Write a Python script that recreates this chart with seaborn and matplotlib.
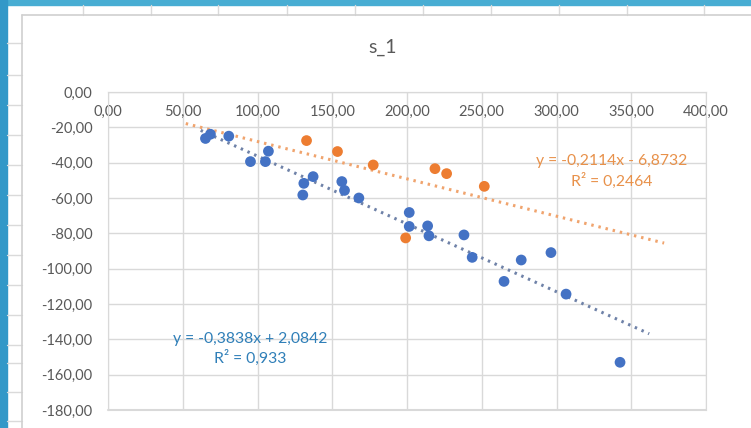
#!/usr/bin/env python3
# -*- coding: utf-8 -*-

#Bibliotecas
import numpy as np
import pandas as pd
import seaborn as sns
import matplotlib.pyplot as plt
from matplotlib.patches import Rectangle
from matplotlib.lines import Line2D

# Dados (série azul e série laranja)
v_azul_x = [65.2, 68.5, 80.8, 95.3, 105.3, 107.3, 131.0, 130.3, 137.2, 156.4, 158.2,
            167.8, 201.5, 201.5, 213.8, 214.7, 238.1, 243.6, 264.9, 276.4, 296.3, 306.4, 342.5]
v_azul_y = [-26.3, -23.9, -25.0, -39.4, -39.4, -33.5, -51.7, -58.3, -47.9, -50.7, -55.7,
            -60.0, -68.2, -76.1, -75.8, -81.4, -80.9, -93.6, -107.2, -95.1, -90.9, -114.4, -153.0]
v_laranja_x = [132.8, 153.5, 177.4, 218.7, 226.5, 251.7, 199.1]
v_laranja_y = [-27.5, -33.7, -41.3, -43.4, -46.2, -53.4, -82.6]

# Linhas de tendência (equações mostradas no gráfico)
v_tend_azul = (-0.3838, 2.0842, 62, 362)
v_tend_laranja = (-0.2114, -6.8732, 52, 372)

v_x_ticks = [0, 50, 100, 150, 200, 250, 300, 350, 400]
v_y_ticks = [0, -20, -40, -60, -80, -100, -120, -140, -160, -180]

df = pd.DataFrame({
    'x': v_azul_x + v_laranja_x,
    'y': v_azul_y + v_laranja_y,
    'serie': ['azul'] * len(v_azul_x) + ['laranja'] * len(v_laranja_x),
})

# Configuração
sns.set_style('white')
plt.rcParams['font.family'] = ['Lato', 'DejaVu Sans']
v_cinza = '#595959'
v_cor_azul = '#4472C4'
v_cor_laranja = '#ED7D31'

fig = plt.figure(figsize=(7.51, 4.28), dpi=100)
fig.patch.set_facecolor('white')

# Moldura da planilha (borda azul e linhas das células)
fig.add_artist(Rectangle((0, 1 - 5 / 428), 1, 5 / 428, transform=fig.transFigure,
                         color='#48ADD3', zorder=0))
fig.add_artist(Rectangle((0, 0), 7 / 751, 1, transform=fig.transFigure,
                         color='#3398C8', zorder=0))
for v_px in [83, 151, 218, 287, 355, 423, 491, 559, 627, 704]:
    fig.add_artist(Line2D([v_px / 751] * 2, [1 - 5 / 428, 1 - 15 / 428],
                          transform=fig.transFigure, color='#DADADA', lw=1))
for v_py in [43, 75, 105, 135, 165, 195, 225, 255, 285, 315, 345, 363, 392, 421]:
    fig.add_artist(Line2D([7 / 751, 22 / 751], [1 - v_py / 428] * 2,
                          transform=fig.transFigure, color='#DADADA', lw=1))
fig.add_artist(Line2D([22 / 751] * 2, [0, 1 - 15 / 428],
                      transform=fig.transFigure, color='#D0D0D0', lw=1.2))
fig.add_artist(Line2D([22 / 751, 1], [1 - 15 / 428] * 2,
                      transform=fig.transFigure, color='#D0D0D0', lw=1.2))

ax = fig.add_axes([108 / 751, 1 - 410 / 428, (706 - 108) / 751, (410 - 92) / 428])

sns.scatterplot(data=df, x='x', y='y', hue='serie',
                palette={'azul': v_cor_azul, 'laranja': v_cor_laranja},
                s=60, linewidth=0, legend=False, ax=ax, zorder=3)

# Linhas de tendência pontilhadas
for (v_a, v_b, v_x0, v_x1), v_cor in [(v_tend_azul, '#6F82A8'), (v_tend_laranja, '#F0A46E')]:
    v_xs = np.array([v_x0, v_x1])
    ax.plot(v_xs, v_a * v_xs + v_b, color=v_cor, lw=2.2, linestyle=(0, (0.8, 1.6)),
            zorder=2)

ax.set_xlim(0, 400)
ax.set_ylim(-180, 0)
ax.set_xticks(v_x_ticks)
ax.set_yticks(v_y_ticks)
ax.set_xticklabels([f'{v:.2f}'.replace('.', ',') for v in v_x_ticks])
ax.set_yticklabels([f'{v:.2f}'.replace('.', ',') for v in v_y_ticks])
ax.spines['bottom'].set_position(('data', 0))
ax.spines['bottom'].set_color('#D9D9D9')
for v_lado in ['top', 'left', 'right']:
    ax.spines[v_lado].set_color('#D9D9D9')
ax.grid(True, color='#D9D9D9', lw=1)
ax.tick_params(axis='x', length=0, pad=9, labelsize=10.5, labelcolor=v_cinza)
ax.tick_params(axis='y', length=0, pad=11, labelsize=10.5, labelcolor=v_cinza)
ax.set_xlabel('')
ax.set_ylabel('')

# Borda inferior visível (eixo x fica no topo, em y = 0)
ax.plot([0, 400], [-180, -180], color='#D9D9D9', lw=1.5, clip_on=False, zorder=1)

# Equações das linhas de tendência
ax.text(337, -45, 'y = -0,2114x - 6,8732\nR² = 0,2464', color='#E8914A', fontsize=11.3,
        ha='center', va='center', linespacing=1.3)
ax.text(95, -145.5, 'y = -0,3838x + 2,0842\nR² = 0,933', color='#2F7FB8', fontsize=11.3,
        ha='center', va='center', linespacing=1.3)

fig.text(383 / 751, 1 - 47 / 428, 's_1', ha='center', va='center', fontsize=14, color=v_cinza)

plt.savefig('out.png', dpi=100)
